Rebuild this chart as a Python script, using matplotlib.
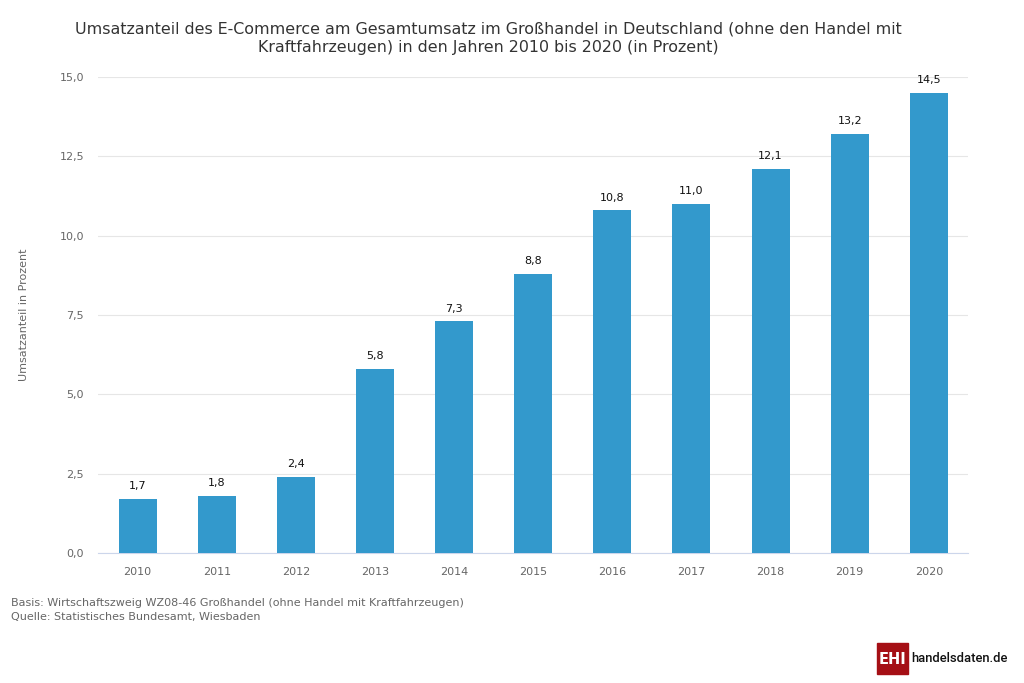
import matplotlib
matplotlib.use("Agg")
import matplotlib.pyplot as plt
from matplotlib.patches import Rectangle

# Jahre und Umsatzanteile (in Prozent)
years = ["2010", "2011", "2012", "2013", "2014", "2015", "2016", "2017", "2018", "2019", "2020"]
shares = [1.7, 1.8, 2.4, 5.8, 7.3, 8.8, 10.8, 11.0, 12.1, 13.2, 14.5]
yticks = [0, 2.5, 5, 7.5, 10, 12.5, 15]

bar_color = "#3399cc"
grid_color = "#e6e6e6"
text_gray = "#666666"


def de(v):
    return f"{v:.1f}".replace(".", ",")


fig = plt.figure(figsize=(10.24, 6.83), dpi=100)
ax = fig.add_axes([0.0957, 0.1903, 0.85, 0.697])

x = range(len(years))
bars = ax.bar(x, shares, width=0.48, color=bar_color, zorder=3)

for xi, v in zip(x, shares):
    ax.text(xi, v + 0.24, de(v), ha="center", va="bottom", fontsize=8, color="#111111")

ax.set_xlim(-0.5, len(years) - 0.5)
ax.set_ylim(0, 15)
ax.set_yticks(yticks)
ax.set_yticklabels([de(t) for t in yticks], fontsize=8, color=text_gray)
ax.set_xticks(list(x))
ax.set_xticklabels(years, fontsize=8, color=text_gray)
ax.tick_params(axis="both", length=0, pad=10)
ax.grid(axis="y", color=grid_color, linewidth=0.8, zorder=0)
for s in ["top", "right", "left"]:
    ax.spines[s].set_visible(False)
ax.spines["bottom"].set_color("#ccd6eb")
ax.spines["bottom"].set_linewidth(0.8)

ax.set_ylabel("Umsatzanteil in Prozent", fontsize=8, color=text_gray, labelpad=22)

fig.text(0.477, 0.944,
         "Umsatzanteil des E-Commerce am Gesamtumsatz im Großhandel in Deutschland (ohne den Handel mit\n"
         "Kraftfahrzeugen) in den Jahren 2010 bis 2020 (in Prozent)",
         ha="center", va="center", fontsize=11.4, color="#333333", linespacing=1.25)

fig.text(0.011, 0.117, "Basis: Wirtschaftszweig WZ08-46 Großhandel (ohne Handel mit Kraftfahrzeugen)",
         fontsize=8, color=text_gray, va="center")
fig.text(0.011, 0.096, "Quelle: Statistisches Bundesamt, Wiesbaden",
         fontsize=8, color=text_gray, va="center")

# Logo
fig.patches.append(Rectangle((877 / 1024, 9 / 683), 31 / 1024, 31 / 683,
                             transform=fig.transFigure, color="#a50f15", zorder=5))
fig.text(892.5 / 1024, 24 / 683, "EHI", ha="center", va="center", fontsize=10.5,
         color="white", fontweight="bold", zorder=6)
fig.text(911 / 1024, 24 / 683, "handelsdaten.de", ha="left", va="center", fontsize=9.4,
         color="#111111", fontfamily="Roboto", fontweight="medium", fontstretch="condensed")

fig.savefig("out.png", dpi=100)
